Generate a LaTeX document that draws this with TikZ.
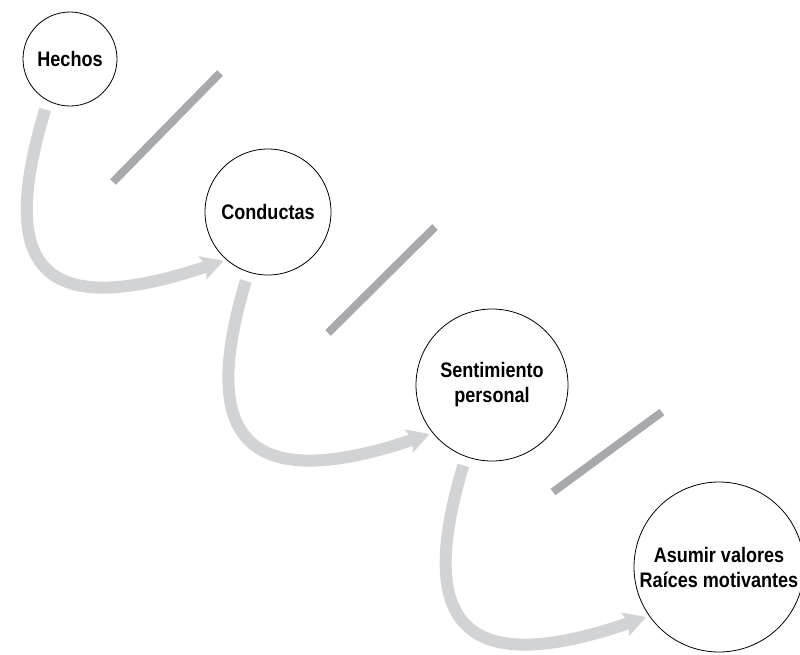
\documentclass[tikz,border=0pt]{standalone}
\usepackage{fontspec}
\setmainfont{Liberation Sans}[FakeStretch=0.86]
\usetikzlibrary{arrows.meta}
\definecolor{flowgray}{RGB}{209,211,213}
\definecolor{slashgray}{RGB}{167,169,172}

\begin{document}
\begin{tikzpicture}[x=1pt, y=-1pt,
  stage/.style={circle, draw=black, line width=0.8pt, fill=white, inner sep=0pt,
    align=center, font=\fontsize{21}{25}\selectfont\bfseries},
  flow/.style={draw=flowgray, line width=12pt,
    -{Stealth[length=22pt, width=24pt, inset=4pt]}, shorten <=9pt, shorten >=3pt},
  slash/.style={draw=slashgray, line width=8pt}]
%%% stages and flow %%%
  \useasboundingbox (0,0) rectangle (800,654);

      %% 
      \node[stage, minimum size=94pt] (hechos) at (70,59) {Hechos};
      %% 
      \node[stage, minimum size=126pt] (conductas) at (268,212) {Conductas};
      %% 
      \node[stage, minimum size=152pt] (sentimiento) at (492,385) {Sentimiento\\personal};
      %% 
      \node[stage, minimum size=170pt] (valores) at (719,567) {Asumir valores\\Raíces motivantes};

      %% 
      \path[flow] (hechos.242) .. controls +(-45,150) and +(-202,68) .. (conductas.229);
      \path[flow] (conductas.252) .. controls +(-45,150) and +(-202,68) .. (sentimiento.219);
      \path[flow] (sentimiento.250) .. controls +(-45,150) and +(-202,70) .. (valores.215);

      %% 
      \draw[slash] (113,182) -- (220,73);
      \draw[slash] (328,333) -- (435,227);
      \draw[slash] (553,492) -- (662,412);

\end{tikzpicture}
\end{document}
